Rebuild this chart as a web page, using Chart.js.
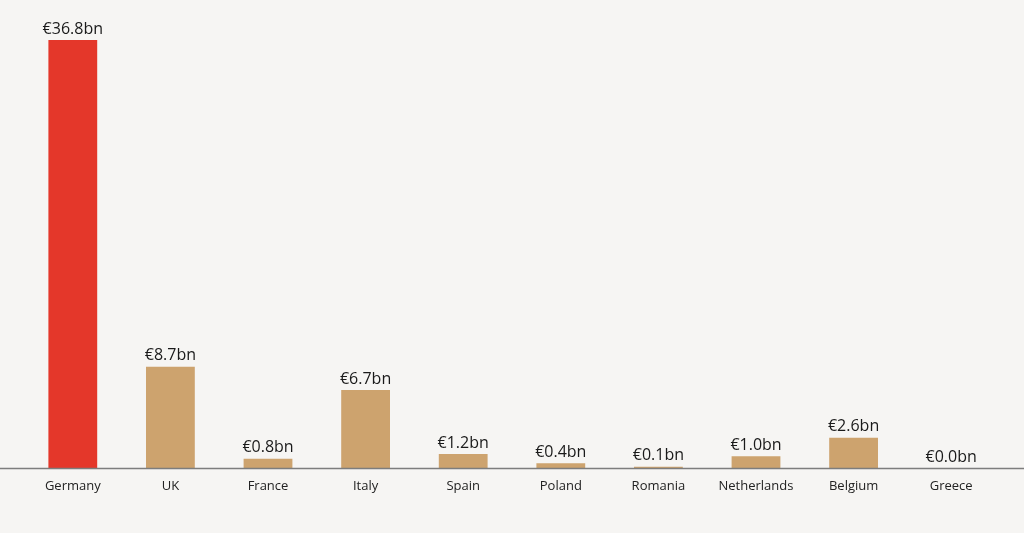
<!DOCTYPE html>
<html>
<head>
<meta charset="utf-8">
<script src="https://cdn.jsdelivr.net/npm/chart.js@4/dist/chart.umd.min.js"></script>
<style>
  html, body { margin: 0; padding: 0; background: #f6f5f3; }
  #wrap { width: 1024px; height: 533px; }
</style>
</head>
<body>
<div id="wrap"><canvas id="chart"></canvas></div>
<script>
// chart data
const countries = ['Germany', 'UK', 'France', 'Italy', 'Spain', 'Poland', 'Romania', 'Netherlands', 'Belgium', 'Greece'];
const valuesBn = [36.8, 8.7, 0.8, 6.7, 1.2, 0.4, 0.1, 1.0, 2.6, 0.0];
const highlight = 'Germany';

const red = '#e4372a';
const tan = '#cda36e';

const valueLabels = {
  id: 'valueLabels',
  afterDatasetsDraw(chart) {
    const ctx = chart.ctx;
    const meta = chart.getDatasetMeta(0);
    ctx.save();
    ctx.font = "16px 'Open Sans', sans-serif";
    ctx.fillStyle = '#1a1a1a';
    ctx.textAlign = 'center';
    ctx.textBaseline = 'bottom';
    meta.data.forEach((bar, i) => {
      ctx.fillText('€' + valuesBn[i].toFixed(1) + 'bn', bar.x, bar.y - 3);
    });
    ctx.restore();
  }
};

// baseline runs the full width of the page
const baseline = {
  id: 'baseline',
  afterDatasetsDraw(chart) {
    const y = Math.round(chart.scales.y.getPixelForValue(0)) + 0.5;
    const ctx = chart.ctx;
    ctx.save();
    ctx.strokeStyle = '#7d7d7d';
    ctx.lineWidth = 1.5;
    ctx.beginPath();
    ctx.moveTo(0, y);
    ctx.lineTo(chart.width, y);
    ctx.stroke();
    ctx.restore();
  }
};

new Chart(document.getElementById('chart'), {
  type: 'bar',
  data: {
    labels: countries,
    datasets: [{
      data: valuesBn,
      backgroundColor: countries.map(c => c === highlight ? red : tan),
      barPercentage: 0.5,
      categoryPercentage: 1.0
    }]
  },
  options: {
    responsive: true,
    maintainAspectRatio: false,
    animation: false,
    layout: { padding: { left: 24, right: 24, top: 40, bottom: 0 } },
    plugins: { legend: { display: false }, tooltip: { enabled: false } },
    scales: {
      x: {
        grid: { display: false },
        border: { display: false },
        ticks: { color: '#222', font: { family: "'Open Sans', sans-serif", size: 13 }, padding: 2, maxRotation: 0 },
        afterFit: (s) => { s.height = 65; }
      },
      y: { display: false, min: 0, max: 36.8 }
    }
  },
  plugins: [valueLabels, baseline]
});
</script>
</body>
</html>
